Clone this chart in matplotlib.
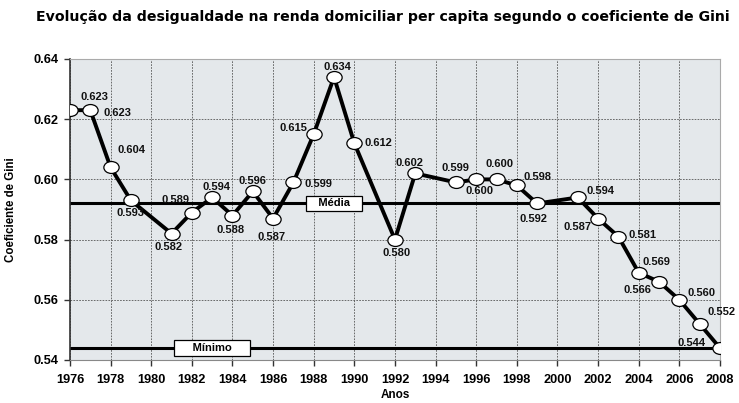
import matplotlib
matplotlib.use("Agg")
import matplotlib.pyplot as plt
from matplotlib.path import Path
from matplotlib.transforms import Affine2D

anos = [1976, 1977, 1978, 1979, 1981, 1982, 1983, 1984, 1985, 1986, 1987, 1988,
        1989, 1990, 1992, 1993, 1995, 1996, 1997, 1998, 1999, 2001, 2002, 2003,
        2004, 2005, 2006, 2007, 2008]
gini = [0.623, 0.623, 0.604, 0.593, 0.582, 0.589, 0.594, 0.588, 0.596, 0.587,
        0.599, 0.615, 0.634, 0.612, 0.580, 0.602, 0.599, 0.600, 0.600, 0.598,
        0.592, 0.594, 0.587, 0.581, 0.569, 0.566, 0.560, 0.552, 0.544]
media = 0.592
minimo = 0.544

# label offsets in pixels (dx, dy), dy positive = up
offsets = [(24, 13), (27, -3), (21, 17), (0, -13), (-3, -13), (-16, 13), (4, 10),
           (-2, -14), (0, 10), (-2, -18), (25, -2), (-20, 6), (3, 10), (24, 0),
           (2, -13), (-6, 10), (0, 14), (3, -12), (3, 15), (21, 8), (-4, -16),
           (23, 6), (-21, -8), (24, 2), (18, 11), (-22, -8), (22, 7), (22, 12),
           (-28, 5)]

# slightly flattened circle as marker
elipse = Path.unit_circle().transformed(Affine2D().scale(1.0, 0.78))

fig = plt.figure(figsize=(7.39, 4.03), dpi=100)
ax = fig.add_axes([0.0947, 0.1067, 0.8795, 0.7469])
ax.set_facecolor("#e4e8eb")

ax.axhline(media, color="black", lw=2.2, zorder=2)
ax.axhline(minimo, color="black", lw=2.2, zorder=2)

ax.plot(anos, gini, color="black", lw=2.8, marker=elipse, markersize=11,
        markerfacecolor="white", markeredgecolor="black", markeredgewidth=0.9,
        zorder=4)

for x, y, (dx, dy) in zip(anos, gini, offsets):
    ax.annotate(f"{y:.3f}", (x, y), xytext=(dx, dy), textcoords="offset pixels",
                ha="center", va="center", fontsize=8, fontweight="bold",
                family="Liberation Sans", color="#111111", zorder=5)

box = dict(boxstyle="square,pad=0.25", fc="white", ec="black", lw=0.9)
ax.text(1989, media, "   Média   ", ha="center", va="center", fontsize=8,
        fontweight="bold", family="Liberation Sans", bbox=box, zorder=3)
ax.text(1983, minimo, "     Mínimo     ", ha="center", va="center", fontsize=8,
        fontweight="bold", family="Liberation Sans", bbox=box, zorder=3)

ax.set_xlim(1976, 2008)
ax.set_ylim(0.54, 0.64)
ax.set_xticks(range(1976, 2009, 2))
ax.set_yticks([0.54, 0.56, 0.58, 0.60, 0.62, 0.64])
ax.set_yticklabels(["0.54", "0.56", "0.58", "0.60", "0.62", "0.64"])
ax.grid(True, color="#555555", ls=(0, (2, 1.5)), lw=0.6, zorder=1)
ax.set_axisbelow(True)

for lab in ax.get_xticklabels() + ax.get_yticklabels():
    lab.set_fontweight("bold")
    lab.set_family("Liberation Sans")
    lab.set_fontsize(9.2)
ax.tick_params(axis="x", length=4, width=1, pad=6, color="#333333")
ax.tick_params(axis="y", length=4, width=1, pad=4, color="#333333")

ax.spines["top"].set_color("#aaaaaa")
ax.spines["right"].set_color("#aaaaaa")
ax.spines["bottom"].set_color("#888888")
ax.spines["left"].set_color("#333333")
ax.spines["left"].set_linewidth(1.2)

ax.set_xlabel("Anos", fontsize=8.5, fontweight="bold", family="Liberation Sans",
              labelpad=2)
ax.set_ylabel("Coeficiente de Gini", fontsize=8.3, fontweight="bold",
              family="Liberation Sans", labelpad=12)

fig.suptitle("Evolução da desigualdade na renda domiciliar per capita segundo o coeficiente de Gini",
             x=0.518, y=0.975, fontsize=10.2, fontweight="bold", family="DejaVu Sans")

fig.savefig("out.png", dpi=100)
